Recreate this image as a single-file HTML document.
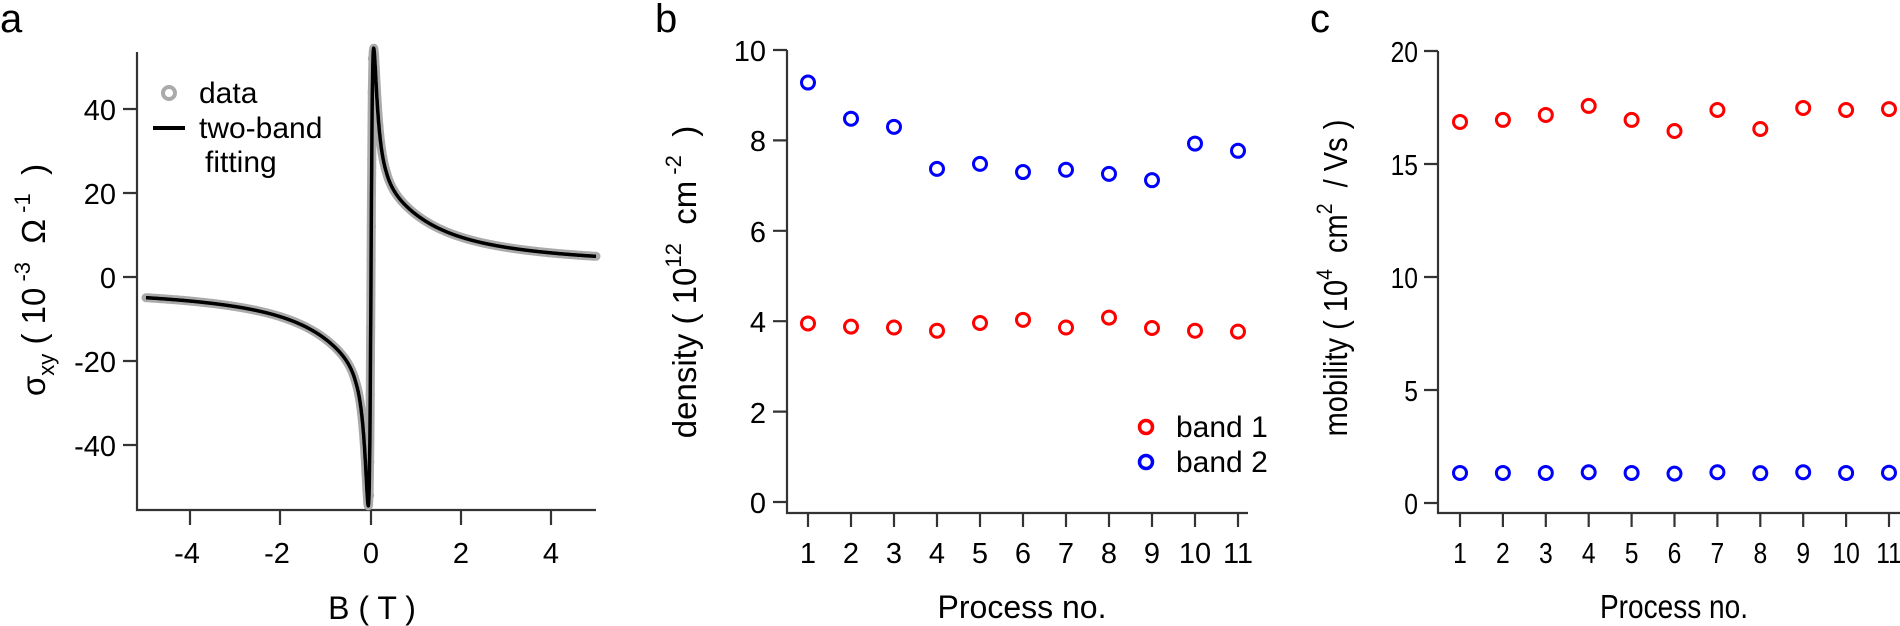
<!DOCTYPE html>
<html><head><meta charset="utf-8"><style>
html,body{margin:0;padding:0;background:#fff;}
svg{display:block;font-family:"Liberation Sans",Arial,sans-serif;}
</style></head><body>
<svg id="s" width="1900" height="626" viewBox="0 0 1900 626" xmlns="http://www.w3.org/2000/svg">
<g fill="#000" font-size="40"><text x="0" y="32">a</text><text x="655" y="32">b</text><text x="1310" y="32">c</text></g>
<!-- panel a axes -->
<g stroke="#333" stroke-width="2.2" fill="none">
<path d="M137,52 V510 H596"/>
<path d="M123,109H137M123,193H137M123,277H137M123,361H137M123,445H137"/>
<path d="M190,510V525M280,510V525M371,510V525M461,510V525M551,510V525"/>
</g>
<g font-size="29" text-anchor="end" fill="#000">
<text x="116" y="120">40</text><text x="116" y="204">20</text><text x="116" y="288">0</text><text x="116" y="372">-20</text><text x="116" y="456">-40</text>
</g>
<g font-size="29" text-anchor="middle" fill="#000">
<text x="187" y="563">-4</text><text x="277" y="563">-2</text><text x="371" y="563">0</text><text x="461" y="563">2</text><text x="551" y="563">4</text>
</g>
<text x="372" y="619" font-size="32" text-anchor="middle">B ( T )</text>
<text transform="translate(45,280) rotate(-90)" text-anchor="middle" font-size="33" xml:space="preserve">σ<tspan font-size="22" dy="9">xy</tspan><tspan dy="-9"> ( 10</tspan><tspan font-size="22" dy="-15"> -3</tspan><tspan dy="15">  Ω</tspan><tspan font-size="22" dy="-15"> -1</tspan><tspan dy="15">  )</tspan></text>
<g id="curves"></g>
<!-- legend a -->
<circle cx="169" cy="93" r="6" fill="none" stroke="#aaa" stroke-width="4"/>
<path d="M153,128H185" stroke="#000" stroke-width="4"/>
<g font-size="30"><text x="199" y="103">data</text><text x="199" y="138">two-band</text><text x="205" y="172">fitting</text></g>

<!-- panel b -->
<g stroke="#333" stroke-width="2.2" fill="none">
<path d="M787,50 V513 H1248"/>
<path d="M773,50H787M773,140.4H787M773,230.8H787M773,321.2H787M773,411.6H787M773,502H787"/>
<path id="bt" d=""/>
</g>
<g font-size="29" text-anchor="end"><text x="766" y="61">10</text><text x="766" y="151">8</text><text x="766" y="242">6</text><text x="766" y="332">4</text><text x="766" y="423">2</text><text x="766" y="513">0</text></g>
<g id="bxl" font-size="29" text-anchor="middle"></g>
<text x="1022" y="618" font-size="32" text-anchor="middle">Process no.</text>
<text transform="translate(696,282) rotate(-90)" text-anchor="middle" font-size="33" xml:space="preserve">density ( 10<tspan font-size="22" dy="-15">12</tspan><tspan dy="15">  cm</tspan><tspan font-size="22" dy="-15"> -2</tspan><tspan dy="15">  )</tspan></text>
<g id="bpts"></g>
<circle cx="1146" cy="427" r="6.5" fill="none" stroke="#f00" stroke-width="3.5"/>
<circle cx="1146" cy="462" r="6.5" fill="none" stroke="#00f" stroke-width="3.5"/>
<g font-size="30"><text x="1176" y="437">band 1</text><text x="1176" y="472">band 2</text></g>

<!-- panel c -->
<g stroke="#333" stroke-width="2.2" fill="none">
<path d="M1438,51 V513 H1900"/>
<path d="M1424,51H1438M1424,164H1438M1424,277H1438M1424,390H1438M1424,503H1438"/>
<path id="ct" d=""/>
</g>
<g font-size="29" text-anchor="end" transform="translate(1418,0) scale(0.85,1)"><text x="0" y="62">20</text><text x="0" y="175">15</text><text x="0" y="288">10</text><text x="0" y="401">5</text><text x="0" y="514">0</text></g>
<g id="cxl" font-size="29" text-anchor="middle"></g>
<text transform="translate(1674,618) scale(0.85,1)" font-size="33" text-anchor="middle">Process no.</text>
<text transform="translate(1347,278) rotate(-90) scale(0.88,1)" text-anchor="middle" font-size="33" xml:space="preserve">mobility ( 10<tspan font-size="22" dy="-15">4</tspan><tspan dy="15">  cm</tspan><tspan font-size="22" dy="-15">2</tspan><tspan dy="15">  / Vs )</tspan></text>
<g id="cpts"></g>
</svg>
<script>
var NS="http://www.w3.org/2000/svg";
function el(p,t,a,txt){var e=document.createElementNS(NS,t);for(var k in a)e.setAttribute(k,a[k]);if(txt!=null)e.textContent=txt;p.appendChild(e);return e;}
function sig(B){return 106*17*B/(1+289*B*B)+15*1.35*B/(1+1.8225*B*B)+ (B>0?1.5:-1.5)*Math.min(1,Math.abs(B)*3);}
var X=function(B){return 371+45*B}, Y=function(v){return 277-4.2*v};
var g=document.getElementById("curves"), d="";
var Bs=[];for(var B=-5;B<=5.0001;B+=0.005)Bs.push(B);
Bs.forEach(function(B,i){d+=(i?"L":"M")+X(B).toFixed(1)+","+Y(sig(B)).toFixed(1);});
el(g,"path",{d:d,stroke:"#aaa","stroke-width":9,fill:"none","stroke-linejoin":"round","stroke-linecap":"round"});
for(var v=-52;v<=52;v+=8){
  var B=v/(106*17*1.0); el(g,"circle",{cx:X(B*1.1),cy:Y(v),r:4,fill:"none",stroke:"#aaa","stroke-width":1.2});}
el(g,"path",{d:d,stroke:"#000","stroke-width":3.5,fill:"none","stroke-linejoin":"round"});
var b1=[3.95,3.88,3.86,3.79,3.96,4.03,3.86,4.08,3.85,3.79,3.77];
var b2=[9.28,8.48,8.3,7.37,7.48,7.3,7.35,7.26,7.12,7.93,7.77];
var bp=document.getElementById("bpts"),bt="",bx=document.getElementById("bxl");
for(var i=0;i<11;i++){var x=808+43*i;bt+="M"+x+",513V527";
 el(bx,"text",{x:x,y:563},String(i+1));
 el(bp,"circle",{cx:x,cy:502-45.2*b1[i],r:6.5,fill:"none",stroke:"#f00","stroke-width":3});
 el(bp,"circle",{cx:x,cy:502-45.2*b2[i],r:6.5,fill:"none",stroke:"#00f","stroke-width":3});}
document.getElementById("bt").setAttribute("d",bt);
var c1=[16.86,16.95,17.17,17.57,16.95,16.46,17.39,16.55,17.48,17.39,17.43];
var c2=[1.33,1.33,1.33,1.36,1.33,1.3,1.36,1.32,1.36,1.33,1.34];
var cp=document.getElementById("cpts"),ct="",cx=document.getElementById("cxl");
for(var i=0;i<11;i++){var x=1460+42.9*i;ct+="M"+x.toFixed(1)+",513V527";
 el(cx,"text",{x:0,y:0,transform:"translate("+x.toFixed(1)+",563) scale(0.85,1)"},String(i+1));
 el(cp,"circle",{cx:x,cy:503-22.6*c1[i],r:6.5,fill:"none",stroke:"#f00","stroke-width":3});
 el(cp,"circle",{cx:x,cy:503-22.6*c2[i],r:6.5,fill:"none",stroke:"#00f","stroke-width":3});}
document.getElementById("ct").setAttribute("d",ct);
</script>
</body></html>
